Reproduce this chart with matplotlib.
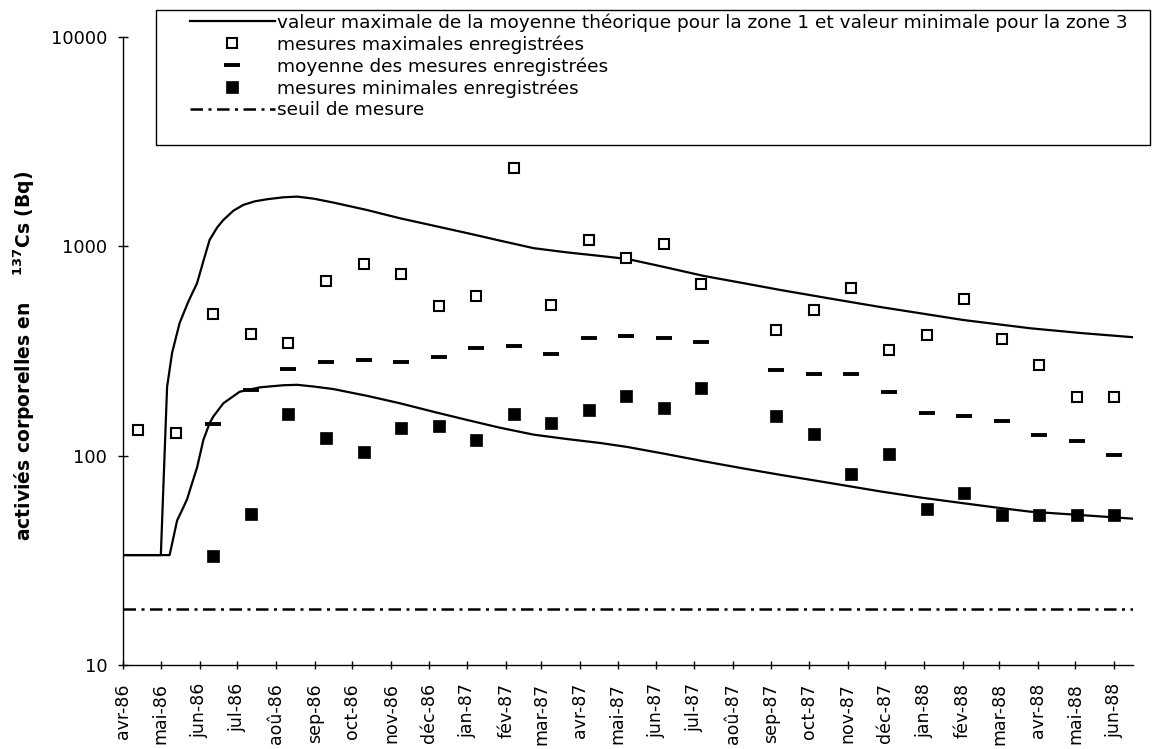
import numpy as np
import pandas as pd
import matplotlib
matplotlib.use("Agg")
import matplotlib.pyplot as plt
from matplotlib.lines import Line2D
from matplotlib.patches import Rectangle
from matplotlib.ticker import FuncFormatter, NullLocator

# ---- data -------------------------------------------------------------
month_labels = ["avr-86", "mai-86", "jun-86", "jul-86", "aoû-86", "sep-86",
                "oct-86", "nov-86", "déc-86", "jan-87", "fév-87", "mar-87",
                "avr-87", "mai-87", "jun-87", "jul-87", "aoû-87", "sep-87",
                "oct-87", "nov-87", "déc-87", "jan-88", "fév-88", "mar-88",
                "avr-88", "mai-88", "jun-88"]

sample_dates = ["1986-04-13", "1986-05-13", "1986-06-12", "1986-07-12",
                "1986-08-11", "1986-09-10", "1986-10-10", "1986-11-09",
                "1986-12-09", "1987-01-08", "1987-02-07", "1987-03-09",
                "1987-04-08", "1987-05-08", "1987-06-07", "1987-07-07",
                "1987-08-06", "1987-09-05", "1987-10-05", "1987-11-04",
                "1987-12-04", "1988-01-03", "1988-02-02", "1988-03-03",
                "1988-04-02", "1988-05-02", "1988-06-01"]

nan = np.nan
max_values = [132, 129, 475, 381, 344, 686, 821, 736, 519, 580, 2377, 527,
              1074, 880, 1025, 661, nan, 397, 496, 631, 320, 377, 560, 362,
              271, 190, 190]
mean_values = [nan, nan, 142, 206, 259, 280, 286, 280, 295, 328, 334, 305,
               364, 373, 365, 351, nan, 256, 245, 245, 201, 160, 154, 147,
               126, 118, 101]
min_values = [nan, nan, 33, 52.5, 158, 121, 104, 135, 139, 119, 158, 144,
              165, 193, 169, 211, nan, 155, 127, 82, 102, 55.5, 66.5, 52,
              52, 52, 52]

# theoretical mean: upper bound (zone 1) and lower bound (zone 3)
high_dates = ["1986-04-01", "1986-05-01", "1986-05-06", "1986-05-10",
              "1986-05-16", "1986-05-23", "1986-05-30", "1986-06-04",
              "1986-06-09", "1986-06-15", "1986-06-20", "1986-06-28",
              "1986-07-06", "1986-07-15", "1986-07-25", "1986-08-07",
              "1986-08-18", "1986-08-31", "1986-09-16", "1986-10-13",
              "1986-11-08", "1986-12-05", "1987-01-01", "1987-01-27",
              "1987-02-23", "1987-03-22", "1987-04-17", "1987-05-09",
              "1987-06-08", "1987-07-09", "1987-08-09", "1987-09-08",
              "1987-10-18", "1987-11-27", "1987-12-30", "1988-02-01",
              "1988-02-28", "1988-03-26", "1988-05-06", "1988-06-16"]
high_values = [33.5, 33.5, 213, 310, 430, 545, 668, 850, 1074, 1230, 1337,
               1480, 1578, 1640, 1679, 1715, 1728, 1690, 1618, 1490, 1362,
               1255, 1156, 1065, 980, 935, 900, 870, 795, 722, 668, 619,
               563, 513, 478, 445, 425, 406, 385, 368]

low_dates = ["1986-04-01", "1986-05-08", "1986-05-10", "1986-05-14",
             "1986-05-18", "1986-05-22", "1986-05-26", "1986-05-30",
             "1986-06-04", "1986-06-09", "1986-06-12", "1986-06-20",
             "1986-07-03", "1986-07-19", "1986-08-07", "1986-08-18",
             "1986-08-31", "1986-09-16", "1986-10-13", "1986-11-08",
             "1986-12-05", "1987-01-01", "1987-01-27", "1987-02-23",
             "1987-03-22", "1987-04-17", "1987-05-09", "1987-06-08",
             "1987-07-09", "1987-08-09", "1987-09-08", "1987-10-18",
             "1987-11-27", "1987-12-30", "1988-02-01", "1988-02-28",
             "1988-03-26", "1988-05-06", "1988-06-16"]
low_values = [33.5, 33.5, 38, 49, 55, 62, 74, 88, 119, 143, 154, 178, 202,
              212, 217, 218, 214, 208, 193, 178, 162, 148, 136, 126, 120,
              115, 110, 102, 94, 87, 81, 74, 67.5, 63, 59.3, 56.5, 54, 52,
              50]

detection_limit = 18.5
x_start, x_end = "1986-04-01", "1988-06-16"

legend_labels = [
    "valeur maximale de la moyenne théorique pour la zone 1 et valeur minimale pour la zone 3",
    "mesures maximales enregistrées",
    "moyenne des mesures enregistrées",
    "mesures minimales enregistrées",
    "seuil de mesure",
]

# ---- figure -----------------------------------------------------------
W, H = 1157, 749
fig = plt.figure(figsize=(W / 100, H / 100), dpi=100)
ax = fig.add_axes([123.3 / W, 1 - 665 / H, (1133 - 123.3) / W, (665 - 37) / H])

xs = pd.to_datetime(sample_dates)
dash_style = dict(lw=1.8, dashes=[5, 2.2, 1.2, 2.2])

ax.plot(pd.to_datetime(high_dates), high_values, color="black", lw=1.6)
ax.plot(pd.to_datetime(low_dates), low_values, color="black", lw=1.6)
ax.axhline(detection_limit, color="black", **dash_style)

sq_open = dict(ls="none", marker="s", mfc="white", mec="black", ms=7.5, mew=1.5)
dash_mk = dict(ls="none", marker="_", color="black", ms=11, mew=2.8)
sq_fill = dict(ls="none", marker="s", mfc="black", mec="black", ms=9.2, mew=0.5)

ax.plot(xs, max_values, **sq_open)
ax.plot(xs, mean_values, **dash_mk)
ax.plot(xs, min_values, **sq_fill)

# axes
ax.set_yscale("log")
ax.set_ylim(10, 10000)
ax.set_xlim(pd.Timestamp(x_start), pd.Timestamp(x_end))
ax.set_yticks([10, 100, 1000, 10000])
ax.yaxis.set_major_formatter(FuncFormatter(lambda v, p: f"{v:g}"))
ax.yaxis.set_minor_locator(NullLocator())
ax.set_xticks(pd.date_range(x_start, periods=len(month_labels), freq="MS"))
ax.set_xticklabels(month_labels, rotation=90)
ax.xaxis.set_minor_locator(NullLocator())

for side in ("top", "right"):
    ax.spines[side].set_visible(False)
for side in ("left", "bottom"):
    ax.spines[side].set_linewidth(1.0)

ax.tick_params(axis="y", direction="inout", length=7.2, width=1.0,
               labelsize=13, pad=8)
ax.tick_params(axis="x", direction="inout", length=6, width=1.0,
               labelsize=12.5, pad=10)

fig.text(24 / W, 1 - 356 / H,
         r"activiés corporelles en    $\mathbf{^{137}}$Cs (Bq)",
         rotation=90, fontsize=13.5, fontweight="bold",
         ha="center", va="center")

# legend with its own frame
frame = Rectangle((155.5 / W, 1 - 145 / H), (1150 - 155.5) / W, 135 / H,
                  transform=fig.transFigure, facecolor="white",
                  edgecolor="black", lw=1.0, zorder=2)
fig.add_artist(frame)

handles = [
    Line2D([], [], color="black", lw=1.6),
    Line2D([], [], **sq_open),
    Line2D([], [], **dash_mk),
    Line2D([], [], **sq_fill),
    Line2D([], [], color="black", **dash_style),
]
leg = fig.legend(handles, legend_labels, loc="upper left",
                 bbox_to_anchor=(190 / W, 1 - 13 / H), frameon=False,
                 fontsize=13.3, borderpad=0, borderaxespad=0,
                 handlelength=4.6, handletextpad=0.1, labelspacing=0.19,
                 numpoints=1)
leg.set_zorder(3)

fig.savefig("out.png", dpi=100)
